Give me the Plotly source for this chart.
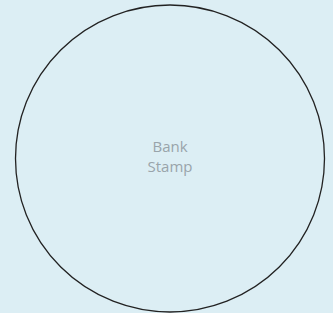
import plotly.graph_objects as go

# data
stamp_lines = ["Bank", "Stamp"]
circle_center = [170, 158.5]
circle_radius = [154.5, 153.5]
text_y = [148, 168]

W, H = 333, 313
BG = "#dceef4"
fig = go.Figure()

fig.add_trace(go.Scatter(
    x=[circle_center[0]] * len(stamp_lines),
    y=text_y,
    mode="text",
    text=stamp_lines,
    textfont=dict(family="Open Sans", size=15, color="#99a4aa"),
    hoverinfo="skip",
    showlegend=False,
))

fig.add_shape(
    type="circle", xref="x", yref="y",
    x0=circle_center[0] - circle_radius[0], x1=circle_center[0] + circle_radius[0],
    y0=circle_center[1] - circle_radius[1], y1=circle_center[1] + circle_radius[1],
    line=dict(color="#222222", width=1.3),
    fillcolor="rgba(0,0,0,0)",
)

fig.update_xaxes(range=[0, W], visible=False, fixedrange=True)
fig.update_yaxes(range=[H, 0], visible=False, fixedrange=True)
fig.update_layout(
    width=W, height=H,
    margin=dict(l=0, r=0, t=0, b=0),
    paper_bgcolor=BG,
    plot_bgcolor=BG,
    showlegend=False,
)

fig.write_html(
    "out.html",
    config={"displayModeBar": False},
    post_script="document.body.style.margin='0';document.body.style.overflow='hidden';document.body.style.background='%s';" % BG,
)
